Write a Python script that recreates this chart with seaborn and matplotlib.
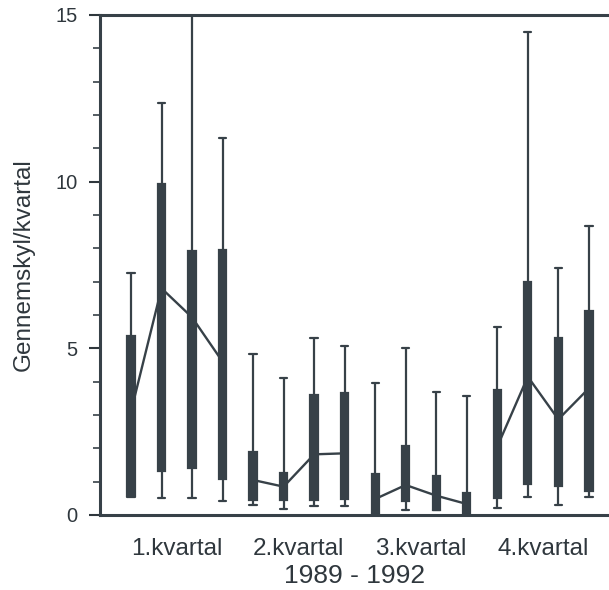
import numpy as np
import pandas as pd
import matplotlib
matplotlib.use("Agg")
import matplotlib.pyplot as plt
import seaborn as sns

# box statistics (16 boxes, 4 quarters x 4 years)
lo   = [0.55, 0.51, 0.51, 0.43, 0.29, 0.18, 0.26, 0.26, 0.06, 0.16, 0.15, 0.00, 0.20, 0.54, 0.31, 0.54]
q1   = [0.56, 1.32, 1.42, 1.09, 0.46, 0.46, 0.46, 0.48, 0.06, 0.41, 0.16, 0.00, 0.51, 0.92, 0.87, 0.71]
mid  = [3.10, 6.80, 5.93, 4.60, 1.05, 0.85, 1.82, 1.85, 0.48, 0.90, 0.58, 0.33, 2.05, 4.15, 2.87, 3.80]
q3   = [5.37, 9.93, 7.91, 7.94, 1.88, 1.27, 3.60, 3.65, 1.22, 2.08, 1.17, 0.66, 3.75, 7.00, 5.32, 6.13]
hi   = [7.25, 12.37, 16.5, 11.30, 4.82, 4.11, 5.32, 5.07, 3.96, 5.02, 3.70, 3.58, 5.63, 14.5, 7.40, 8.67]
years = [1989, 1990, 1991, 1992]
quarters = ["1.kvartal", "2.kvartal", "3.kvartal", "4.kvartal"]

C = "#374148"
TXT = "#2f373d"

# long table: five values per box give exactly min/q1/median/q3/max
rows = []
for i in range(16):
    for v in (lo[i], q1[i], mid[i], q3[i], hi[i]):
        rows.append({"box": i, "val": v})
df = pd.DataFrame(rows)

pts = pd.DataFrame({"pos": np.arange(16), "mid": mid,
                    "kvartal": np.repeat(quarters, 4)})

sns.set_style("ticks")
plt.rcParams["font.family"] = ["Liberation Sans", "DejaVu Sans"]

fig = plt.figure(figsize=(6.09, 5.90), dpi=100)
ax = fig.add_axes([100 / 609, 75 / 590, 509 / 609, 500 / 590])

sns.boxplot(data=df, x="box", y="val", whis=(0, 100), width=0.24,
            color=C, linecolor=C, linewidth=1.6, fliersize=0,
            saturation=1, capwidths=0.24,
            medianprops=dict(color=C), ax=ax)
sns.lineplot(data=pts, x="pos", y="mid", units="kvartal", estimator=None,
             color=C, linewidth=1.7, ax=ax)

ax.set_xlim(-1.015, 15.66)
ax.set_ylim(0, 15)
ax.set_yticks([0, 5, 10, 15])
ax.set_yticks(np.arange(0, 16, 1), minor=True)
ax.set_xticks([1.5, 5.5, 9.5, 13.5])
ax.set_xticklabels(quarters)
ax.tick_params(axis="x", length=0, pad=16.5, labelsize=17.5, colors=TXT)
ax.tick_params(axis="y", which="major", length=8, width=1.5, pad=8,
               labelsize=14.5, colors=TXT)
ax.tick_params(axis="y", which="minor", length=5, width=1.2, colors=C)
for s in ("top", "bottom", "left"):
    ax.spines[s].set_linewidth(2.2)
    ax.spines[s].set_color(C)
ax.spines["right"].set_visible(False)

ax.set_xlabel("1989 - 1992", fontsize=19, color=TXT, labelpad=3)
ax.set_ylabel("Gennemskyl/kvartal", fontsize=17.5, color=TXT)
ax.yaxis.set_label_coords(-0.128, 0.5)

fig.savefig("out.png", dpi=100)
